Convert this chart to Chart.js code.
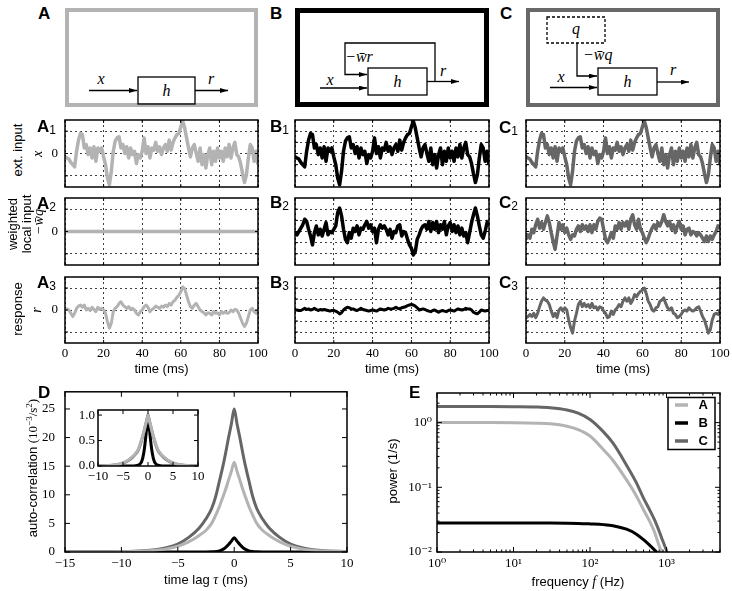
<!DOCTYPE html>
<html>
<head>
<meta charset="utf-8">
<script src="https://cdn.jsdelivr.net/npm/chart.js@4.4.0/dist/chart.umd.min.js"></script>
<style>
  html, body { margin: 0; background: #fff; }
  #fig { position: relative; width: 732px; height: 591px; overflow: hidden; font-family: "Liberation Sans", Arial, sans-serif; color: #000; }
  canvas { position: absolute; }
  .lbl { position: absolute; font-weight: bold; font-size: 17px; line-height: 1; }
  .sb { font-weight: normal; font-size: 12px; vertical-align: -2px; }
  .rl { position: absolute; transform: translate(-50%, -50%) rotate(-90deg); white-space: nowrap; font-size: 13px; line-height: 1; }
  .hl { position: absolute; transform: translate(-50%, -50%); white-space: nowrap; font-size: 13px; line-height: 1; }
  .m { font-family: "Liberation Serif", "DejaVu Serif", serif; font-style: italic; font-size: 14px; }
  .s { font-family: "Liberation Serif", "DejaVu Serif", serif; }
  svg text { font-family: "Liberation Serif", "DejaVu Serif", serif; font-style: italic; font-size: 16px; }
</style>
</head>
<body>
<div id="fig">
  <svg width="732" height="120" style="position:absolute;left:0;top:0">
    <defs>
      <marker id="ar" viewBox="0 0 10 6" refX="10" refY="3" markerWidth="8" markerHeight="5" orient="auto" markerUnits="userSpaceOnUse">
        <path d="M0,0 L10,3 L0,6 z" fill="#000"/>
      </marker>
    </defs>
    <g fill="none" stroke="#000" stroke-width="1.3">
      <!-- A -->
      <rect x="67" y="10" width="189" height="95" stroke="#b3b3b3" stroke-width="4"/>
      <rect x="138" y="77" width="57" height="27"/>
      <line x1="89" y1="90.5" x2="137" y2="90.5" marker-end="url(#ar)"/>
      <line x1="195" y1="90.5" x2="228" y2="90.5" marker-end="url(#ar)"/>
      <!-- B -->
      <rect x="297.5" y="10.5" width="189" height="94" stroke="#000" stroke-width="5"/>
      <rect x="368" y="68" width="59" height="27"/>
      <line x1="427" y1="81.5" x2="459" y2="81.5" marker-end="url(#ar)"/>
      <polyline points="435,81.5 435,43 345,43 345,74.5 367,74.5" marker-end="url(#ar)"/>
      <line x1="320" y1="88" x2="367" y2="88" marker-end="url(#ar)"/>
      <!-- C -->
      <rect x="528" y="10" width="190" height="95" stroke="#686868" stroke-width="4"/>
      <rect x="547" y="17" width="58" height="26" stroke-dasharray="3,2"/>
      <polyline points="577,43 577,76 597,76" marker-end="url(#ar)"/>
      <line x1="550" y1="87.5" x2="597" y2="87.5" marker-end="url(#ar)"/>
      <rect x="598" y="68" width="59" height="27"/>
      <line x1="657" y1="82" x2="689" y2="82" marker-end="url(#ar)"/>
    </g>
    <text x="166.5" y="96" text-anchor="middle">h</text>
    <text x="101" y="84" text-anchor="middle">x</text>
    <text x="211" y="84" text-anchor="middle">r</text>
    <text x="397.5" y="86.5" text-anchor="middle">h</text>
    <text x="330" y="85" text-anchor="middle">x</text>
    <text x="443" y="76" text-anchor="middle">r</text>
    <text x="359" y="62" text-anchor="middle">−w̄r</text>
    <text x="576" y="34" text-anchor="middle">q</text>
    <text x="583" y="60">−w̄q</text>
    <text x="561" y="82" text-anchor="middle">x</text>
    <text x="627.5" y="86.5" text-anchor="middle">h</text>
    <text x="673" y="75" text-anchor="middle">r</text>
  </svg>

  <canvas id="a1"></canvas><canvas id="b1"></canvas><canvas id="c1"></canvas>
  <canvas id="a2"></canvas><canvas id="b2"></canvas><canvas id="c2"></canvas>
  <canvas id="a3"></canvas><canvas id="b3"></canvas><canvas id="c3"></canvas>
  <canvas id="cd"></canvas><canvas id="cin"></canvas><canvas id="ce"></canvas>

  <div class="lbl" style="left:38px;top:5px">A</div>
  <div class="lbl" style="left:270px;top:5px">B</div>
  <div class="lbl" style="left:500px;top:5px">C</div>
  <div class="lbl" style="left:37px;top:118px">A<span class="sb">1</span></div>
  <div class="lbl" style="left:270px;top:118px">B<span class="sb">1</span></div>
  <div class="lbl" style="left:499px;top:119px">C<span class="sb">1</span></div>
  <div class="lbl" style="left:37px;top:195px">A<span class="sb">2</span></div>
  <div class="lbl" style="left:270px;top:194px">B<span class="sb">2</span></div>
  <div class="lbl" style="left:499px;top:194px">C<span class="sb">2</span></div>
  <div class="lbl" style="left:37px;top:274px">A<span class="sb">3</span></div>
  <div class="lbl" style="left:270px;top:274px">B<span class="sb">3</span></div>
  <div class="lbl" style="left:499px;top:274px">C<span class="sb">3</span></div>
  <div class="lbl" style="left:38px;top:384px">D</div>
  <div class="lbl" style="left:409px;top:384px">E</div>

  <div class="rl" style="left:17px;top:150px">ext. input</div>
  <div class="rl m" style="left:38px;top:154px">x</div>
  <div class="rl" style="left:12px;top:224px">weighted</div>
  <div class="rl" style="left:26px;top:224px">local input</div>
  <div class="rl m" style="left:39px;top:222px">−w̄q</div>
  <div class="rl" style="left:17px;top:309px">response</div>
  <div class="rl m" style="left:37px;top:310px">r</div>

  <div class="rl" style="left:32px;top:468px">auto-correlation <span class="s">(10<sup style="font-size:9px">−3</sup>/s<sup style="font-size:9px">2</sup>)</span></div>
  <div class="hl" style="left:206px;top:580px">time lag <span class="m">τ</span> (ms)</div>
  <div class="rl" style="left:392px;top:471px">power (1/s)</div>
  <div class="hl" style="left:578px;top:582px">frequency <span class="m">f</span> (Hz)</div>
</div>

<script>
// ---- data ----
const TIME = [0,1,2,3,4,5,6,7,8,9,10,11,12,13,14,15,16,17,18,19,20,21,22,23,24,25,26,27,28,29,30,31,32,33,34,35,36,37,38,39,40,41,42,43,44,45,46,47,48,49,50,51,52,53,54,55,56,57,58,59,60,61,62,63,64,65,66,67,68,69,70,71,72,73,74,75,76,77,78,79,80,81,82,83,84,85,86,87,88,89,90,91,92,93,94,95,96,97,98,99,100];

// external input x (same in A1, B1, C1)
const X_INPUT = [-0.3,-0.4,-0.5,-0.8,-1.0,-1.2,0.2,1.2,1.8,1.7,
  0.5,0.8,-0.1,0.5,-0.4,0.6,-0.7,0.5,0.2,0.5,
  -0.3,-1.0,-2.2,-2.8,-1.6,0.2,1.1,1.4,1.5,0.5,
  0.8,0,0.6,-0.4,0.5,-0.1,0.2,-0.9,-0.1,-0.4,
  0.2,1.4,0,0.6,-0.4,0.5,0.3,1.0,0.2,0.6,
  -0.1,0.5,0.8,0.2,1.2,0.3,1.0,1.4,1.7,1.8,
  2.4,2.9,2.3,1.4,0.5,-0.3,0.5,0.8,0,-0.7,
  0.5,-1.0,-0.1,-1.3,-0.1,0.5,-1.0,0.2,-0.7,0.5,
  -0.4,0.2,-0.7,0.5,-0.3,0.8,-0.4,0.5,1.0,-0.1,
  -0.3,-0.9,-1.8,-2.6,-1.9,-0.4,0.8,0.5,-0.7,0.2,-1.0];

// weighted local input
const A_LOCAL_T = [0, 100];
const A_LOCAL = [0, 0];
const B_LOCAL = [-0.1,-0.3,0,0.3,0.6,1.1,0.9,0.2,-0.4,-1.2,
  -0.1,0.5,-0.3,0.2,-0.4,0.2,0.8,-0.3,0,-0.1,
  0.2,0.5,1.7,2.1,1.4,0.2,-0.7,-1.0,-0.1,-0.6,
  0.3,0,0.5,-0.3,0.3,0.2,0.6,0.9,0.3,0.6,
  0,0.3,-1.0,0.2,0.6,0.3,0.5,0.2,-0.3,0.2,
  -0.6,0,-0.1,0.5,0.6,-0.4,0,-0.1,-0.7,-1.2,
  -1.5,-2.1,-1.8,-0.7,-0.3,0.2,0.5,0.6,0.2,0.9,
  0,0.8,0.2,0.9,-0.1,0.6,0.2,0.9,-0.3,0.5,
  0.8,0,0.6,-0.1,0.5,-0.3,0.3,-0.4,-0.1,-1.0,
  -0.1,0.8,1.5,2.1,1.4,0.5,-0.3,-0.6,0,0.8,0.5];
const C_LOCAL = [-0.7,-0.3,-0.6,0.2,-0.1,0.6,1.1,0.3,0.8,0.2,
  0.8,1.4,0.8,-0.1,-0.9,-1.6,-0.4,0.8,0.2,0.6,
  -0.1,0.3,-0.3,-0.7,-0.3,-0.4,0.2,0.5,0,0.6,
  0.2,0.5,0,0.6,-0.1,0.6,0.2,0.9,1.2,1.1,
  0.2,-0.7,-1.0,-0.6,-0.1,-0.6,0.5,0.2,0.8,0.2,
  0.8,0.5,0.9,0.2,1.1,1.5,0.6,0.2,1.1,0.2,
  -0.1,-0.6,-1.0,-0.6,-0.1,0.3,0.6,0.2,0.8,0.5,
  0.9,1.5,0.9,0.5,0.9,0.2,0.6,-0.1,0.5,0.9,
  0.2,0.5,-0.3,0.2,0.3,-0.3,0,-0.1,-0.4,-0.1,
  -0.3,-0.6,-0.9,-0.4,-0.9,-0.4,-0.7,-0.3,0,0.5,0.3];

// response r
const A_RESP = [0,0.1,0,-0.3,-0.6,-0.3,0.15,0.35,0.45,0.25,
  0.45,0,0.15,-0.05,0.25,0.05,-0.15,0.25,0.05,0.15,
  0,-0.3,-1.05,-1.65,-1.2,-0.15,0.15,0.3,0.6,0.75,
  0.45,0.3,0.15,0.3,0.05,0.15,0,-0.3,-0.45,-0.15,
  0,0.3,0.45,0.25,-0.15,0.05,0.15,0.35,0.25,0.15,
  0.35,0.25,0.45,0.3,0.6,0.45,0.75,0.9,1.15,1.35,
  1.65,2.1,1.95,1.35,0.75,0.3,0.15,0.45,0.6,0.3,
  0,-0.15,-0.25,-0.45,-0.25,-0.3,-0.45,-0.15,-0.3,-0.25,
  -0.45,-0.15,-0.3,-0.15,-0.3,-0.25,0,-0.15,0.05,0,
  -0.3,-0.75,-1.2,-1.5,-1.2,-0.6,0,0.15,-0.15,-0.3,-0.15];
const B_RESP = [0,0,-0.05,-0.05,0.05,0.15,0.05,0.1,0,0.05,
  0.15,0.05,-0.05,0.05,0,0.05,0,-0.05,-0.1,-0.05,
  -0.05,-0.1,-0.2,-0.35,-0.25,0,0.15,0.25,0.2,0.1,
  0.1,0,-0.05,0.05,0.15,0.05,0,-0.05,-0.1,-0.05,
  0,-0.05,-0.1,0,0.1,0.05,0,0.05,0.15,0.1,
  0.1,0.15,0.25,0.15,0.1,0.2,0.25,0.3,0.4,0.45,
  0.5,0.45,0.35,0.2,0,0.05,0.1,0.05,-0.05,-0.1,
  -0.15,-0.05,0,-0.1,-0.2,-0.1,-0.05,-0.1,-0.15,-0.05,
  0,-0.05,-0.1,0,0.1,0.05,0,0.05,0.15,0.1,
  0.1,0,-0.2,-0.3,-0.35,-0.2,0,-0.05,-0.1,-0.05,-0.05];
const C_RESP = [-0.7,-0.6,-0.4,-0.6,-0.3,-0.7,-0.3,0.3,0.8,1.1,
  0.9,0.8,0.5,-0.1,-0.6,-0.3,-0.7,0,0.2,-0.1,
  0.2,0,-0.9,-1.6,-2.1,-1.0,-0.3,0.5,0.8,0.3,
  0.6,0.3,0.5,0.2,0.6,0.2,0.3,0,0.3,0.2,
  -0.1,-0.3,-0.7,-0.6,-0.1,-0.4,0,0.2,0.5,0.3,
  0.8,1.1,0.8,1.1,0.6,0.9,1.4,1.2,1.5,1.7,
  1.8,2.0,1.5,0.8,0.5,0,-0.1,0.2,0.3,0.8,
  0.9,1.1,0.6,0.2,0,0.2,-0.3,-0.4,-0.7,-0.6,
  -0.4,-0.1,0,-0.1,0.2,0,-0.1,0,0.2,0.3,
  -0.1,-0.6,-0.9,-1.5,-2.1,-1.8,-0.9,-0.4,-0.3,-0.4,-0.1];

// D: auto-correlation vs time lag
const TAU = [-15,-12,-10,-8,-7,-6,-5,-4,-3.1,-2.5,-2,-1.6,-1.3,-1,-0.75,-0.5,-0.25,0,0.25,0.5,0.75,1,1.3,1.6,2,2.5,3.1,4,5,6,7,8,10];
const AC_A = [0,0.015,0.05,0.17,0.3,0.55,1.0,1.8,2.9,3.8,5.0,6.6,8.0,9.6,11.0,12.6,14.1,15.7,14.1,12.6,11.0,9.6,8.0,6.6,5.0,3.8,2.9,1.8,1.0,0.55,0.3,0.17,0.05];
const AC_B = [0,0,0,0,0,0,0,0,0,0.01,0.04,0.1,0.2,0.45,0.8,1.3,1.9,2.5,1.9,1.3,0.8,0.45,0.2,0.1,0.04,0.01,0,0,0,0,0,0,0];
const AC_C = [0,0.02,0.07,0.22,0.4,0.75,1.4,2.6,4.2,5.8,7.6,10,12.5,15,17.4,20,22.4,25,22.4,20,17.4,15,12.5,10,7.6,5.8,4.2,2.6,1.4,0.75,0.4,0.22,0.07];
// inset: normalised auto-correlation
const IN_A = [0,0.001,0.003,0.011,0.019,0.035,0.064,0.115,0.185,0.242,0.318,0.42,0.51,0.611,0.70,0.803,0.898,1,0.898,0.803,0.70,0.611,0.51,0.42,0.318,0.242,0.185,0.115,0.064,0.035,0.019,0.011,0.003];
const IN_B = [0,0,0,0,0,0,0,0,0,0.004,0.016,0.04,0.08,0.18,0.32,0.52,0.76,1,0.76,0.52,0.32,0.18,0.08,0.04,0.016,0.004,0,0,0,0,0,0,0];
const IN_C = [0,0.001,0.003,0.009,0.016,0.03,0.056,0.104,0.168,0.232,0.304,0.4,0.5,0.6,0.696,0.8,0.896,1,0.896,0.8,0.696,0.6,0.5,0.4,0.304,0.232,0.168,0.104,0.056,0.03,0.016,0.009,0.003];

// E: power spectra
const FREQ = [1,2,5,10,20,30,50,70,100,150,200,300,400,500,600,700,800,900,1000,1200];
const PSD_A = [1.0,1.0,1.0,0.995,0.98,0.96,0.88,0.78,0.62,0.38,0.26,0.13,0.075,0.045,0.03,0.02,0.0125,0.0088,0.0065,0.004];
const PSD_B = [0.028,0.028,0.028,0.028,0.028,0.028,0.0279,0.0277,0.0272,0.0265,0.0255,0.0225,0.019,0.0155,0.0128,0.0107,0.009,0.0077,0.0065,0.0045];
const PSD_C = [1.77,1.77,1.77,1.76,1.74,1.70,1.57,1.40,1.12,0.72,0.48,0.22,0.12,0.068,0.045,0.031,0.021,0.0145,0.0105,0.005];

// tick labels
const TS_XTICKS = [0,20,40,60,80,100];
const TS_YTICKS = [-2,-1,0,1,2];
const D_XTICKS = [-15,-10,-5,0,5,10];
const D_YTICKS = [0,5,10,15,20,25];
const IN_XTICKS = [-10,-5,0,5,10];
const IN_YTICKS = [0,0.5,1.0];
const E_XTICKS = [1,10,100,1000];
const E_YTICKS = [0.01,0.1,1];

// ---- styling ----
const COL_A = '#b3b3b3', COL_B = '#000000', COL_C = '#666666';
const SERIF = '"Liberation Serif", "DejaVu Serif", serif';
const SANS = '"Liberation Sans", Arial, sans-serif';
const GRID = 'rgba(0,0,0,0.75)';
const SUP = {'0':'\u2070','1':'\u00b9','2':'\u00b2','3':'\u00b3','4':'\u2074','-':'\u207b'};

const minus = v => String(v).replace('-', '\u2212');
const pow10 = v => '10' + String(Math.round(Math.log10(v))).split('').map(c => SUP[c]).join('');
const setTicks = list => s => { s.ticks = list.map(v => ({value: v})); };

function logMinor(lo, hi) {
  const out = [];
  for (let d = lo; d < hi; d *= 10)
    for (let k = 2; k < 10; k++) if (d * k <= hi) out.push(d * k);
  return out;
}

const frame = {
  id: 'frame',
  afterDraw(chart) {
    const {ctx, chartArea: a} = chart;
    ctx.save();
    ctx.strokeStyle = '#000';
    ctx.lineWidth = 1.5;
    ctx.strokeRect(a.left, a.top, a.right - a.left, a.bottom - a.top);
    ctx.restore();
  }
};

// matplotlib style ticks pointing inward on all four sides
const inTicks = {
  id: 'inTicks',
  afterDatasetsDraw(chart, args, opts) {
    const {ctx, chartArea: a, scales} = chart;
    const big = opts.len || 4, small = opts.minorLen || 2;
    ctx.save();
    ctx.strokeStyle = '#000';
    ctx.lineWidth = 1;
    ctx.beginPath();
    const mark = (s, v, len) => {
      const p = s.getPixelForValue(v);
      if (s.isHorizontal()) {
        if (p < a.left - 0.5 || p > a.right + 0.5) return;
        ctx.moveTo(p, a.bottom); ctx.lineTo(p, a.bottom - len);
        ctx.moveTo(p, a.top); ctx.lineTo(p, a.top + len);
      } else {
        if (p < a.top - 0.5 || p > a.bottom + 0.5) return;
        ctx.moveTo(a.left, p); ctx.lineTo(a.left + len, p);
        ctx.moveTo(a.right, p); ctx.lineTo(a.right - len, p);
      }
    };
    [scales.x, scales.y].forEach(s => {
      s.ticks.forEach(t => mark(s, t.value, big));
      (opts[s.axis + 'Minor'] || []).forEach(v => mark(s, v, small));
    });
    ctx.stroke();
    ctx.restore();
  }
};

const whiteArea = {
  id: 'whiteArea',
  beforeDraw(chart) {
    const {ctx, chartArea: a} = chart;
    ctx.save();
    ctx.fillStyle = '#fff';
    ctx.fillRect(a.left, a.top, a.right - a.left, a.bottom - a.top);
    ctx.restore();
  }
};

const eLegend = {
  id: 'eLegend',
  afterDraw(chart) {
    const {ctx, chartArea: a} = chart;
    const w = 47, h = 52, x = a.right - w - 5, y = a.top + 4.5;
    ctx.save();
    ctx.fillStyle = '#fff';
    ctx.fillRect(x, y, w, h);
    ctx.lineWidth = 1.5;
    ctx.strokeStyle = '#000';
    ctx.strokeRect(x, y, w, h);
    ctx.font = 'bold 13px ' + SANS;
    ctx.textAlign = 'right';
    ctx.textBaseline = 'middle';
    chart.data.datasets.forEach((ds, i) => {
      const ly = y + 7.5 + i * 18;
      ctx.strokeStyle = ds.borderColor;
      ctx.lineWidth = 3.5;
      ctx.beginPath();
      ctx.moveTo(x + 7, ly);
      ctx.lineTo(x + 20, ly);
      ctx.stroke();
      ctx.fillStyle = '#000';
      ctx.fillText(ds.label, x + w - 7, ly + 0.5);
    });
    ctx.restore();
  }
};

function place(id, l, t, w, h) {
  const cv = document.getElementById(id);
  cv.width = w; cv.height = h;
  cv.style.left = l + 'px'; cv.style.top = t + 'px';
  return cv;
}

function line(xs, ys, color, lw, label, smooth) {
  return {
    label: label,
    data: xs.map((x, i) => ({x: x, y: ys[i]})),
    borderColor: color,
    borderWidth: lw,
    pointRadius: 0,
    fill: false,
    tension: 0,
    cubicInterpolationMode: smooth ? 'monotone' : 'default',
    borderJoinStyle: 'round'
  };
}

function baseOptions(padT, padR) {
  return {
    responsive: false,
    animation: false,
    events: [],
    layout: {padding: {top: padT, right: padR, left: 0, bottom: 0}},
    plugins: {legend: {display: false}, tooltip: {enabled: false}}
  };
}

const PAD_T = 16, PAD_R = 14;

// ---- time-series panels ----
const COLS = [[65, 258], [295, 489], [526, 720]];
const ROWS = [[120, 187], [198, 265], [277, 343]];

function tsChart(id, col, row, xs, ys, color, lw) {
  const [x0, x1] = COLS[col], [y0, y1] = ROWS[row];
  const bottom = row === 2, left = col === 0;
  const axW = 25, axH = bottom ? 40 : 16;
  const cv = place(id, x0 - axW, y0 - PAD_T, x1 - x0 + axW + PAD_R, y1 - y0 + PAD_T + axH);
  const opts = baseOptions(PAD_T, PAD_R);
  opts.plugins.inTicks = {len: 3};
  opts.scales = {
    x: {
      type: 'linear', min: 0, max: 100,
      afterBuildTicks: setTicks(TS_XTICKS),
      afterFit: s => { s.height = axH; },
      grid: {color: GRID, lineWidth: 1, drawTicks: false},
      border: {display: false, dash: [2, 3]},
      ticks: {display: bottom, color: '#000', padding: 3, maxRotation: 0, font: {family: SERIF, size: 13}},
      title: {display: bottom, text: 'time (ms)', color: '#000', font: {family: SANS, size: 13}, padding: {top: 0, bottom: 6}}
    },
    y: {
      type: 'linear', min: -3, max: 3,
      afterBuildTicks: setTicks(TS_YTICKS),
      afterFit: s => { s.width = axW; },
      grid: {color: GRID, lineWidth: 1, drawTicks: false},
      border: {display: false, dash: [2, 3]},
      ticks: {display: left, color: '#000', padding: 7, font: {family: SERIF, size: 13}, callback: v => (v === 0 ? '0' : '')}
    }
  };
  return new Chart(cv, {
    type: 'line',
    data: {datasets: [line(xs, ys, color, lw, '', false)]},
    options: opts,
    plugins: [frame, inTicks]
  });
}

tsChart('a1', 0, 0, TIME, X_INPUT, COL_A, 3.5);
tsChart('b1', 1, 0, TIME, X_INPUT, COL_B, 3.5);
tsChart('c1', 2, 0, TIME, X_INPUT, COL_C, 3.5);
tsChart('a2', 0, 1, A_LOCAL_T, A_LOCAL, COL_A, 3.5);
tsChart('b2', 1, 1, TIME, B_LOCAL, COL_B, 3.5);
tsChart('c2', 2, 1, TIME, C_LOCAL, COL_C, 3.5);
tsChart('a3', 0, 2, TIME, A_RESP, COL_A, 3);
tsChart('b3', 1, 2, TIME, B_RESP, COL_B, 3);
tsChart('c3', 2, 2, TIME, C_RESP, COL_C, 3);

// ---- D: auto-correlation ----
(function () {
  const x0 = 65, x1 = 347, y0 = 390, y1 = 552, axW = 40, axH = 20;
  const cv = place('cd', x0 - axW, y0 - PAD_T, x1 - x0 + axW + PAD_R, y1 - y0 + PAD_T + axH);
  const opts = baseOptions(PAD_T, PAD_R);
  opts.plugins.inTicks = {len: 5};
  opts.scales = {
    x: {
      type: 'linear', min: -15, max: 10,
      afterBuildTicks: setTicks(D_XTICKS),
      afterFit: s => { s.height = axH; },
      grid: {display: false, drawTicks: false}, border: {display: false},
      ticks: {color: '#000', padding: 4, maxRotation: 0, font: {family: SERIF, size: 13}, callback: minus}
    },
    y: {
      type: 'linear', min: 0, max: 28,
      afterBuildTicks: setTicks(D_YTICKS),
      afterFit: s => { s.width = axW; },
      grid: {display: false, drawTicks: false}, border: {display: false},
      ticks: {color: '#000', padding: 10, font: {family: SERIF, size: 13}}
    }
  };
  new Chart(cv, {
    type: 'line',
    data: {datasets: [
      line(TAU, AC_A, COL_A, 3, 'A', true),
      line(TAU, AC_C, COL_C, 3, 'C', true),
      line(TAU, AC_B, COL_B, 3, 'B', true)
    ]},
    options: opts,
    plugins: [frame, inTicks]
  });
})();

// ---- D inset: normalised ----
(function () {
  const x0 = 98, x1 = 198, y0 = 410, y1 = 466, axW = 30, axH = 18;
  const cv = place('cin', x0 - axW, y0 - PAD_T, x1 - x0 + axW + PAD_R, y1 - y0 + PAD_T + axH);
  const opts = baseOptions(PAD_T, PAD_R);
  opts.plugins.inTicks = {len: 4};
  opts.scales = {
    x: {
      type: 'linear', min: -10, max: 10,
      afterBuildTicks: setTicks(IN_XTICKS),
      afterFit: s => { s.height = axH; },
      grid: {display: false, drawTicks: false}, border: {display: false},
      ticks: {color: '#000', padding: 3, maxRotation: 0, font: {family: SERIF, size: 13}, callback: minus}
    },
    y: {
      type: 'linear', min: 0, max: 1.1,
      afterBuildTicks: setTicks(IN_YTICKS),
      afterFit: s => { s.width = axW; },
      grid: {display: false, drawTicks: false}, border: {display: false},
      ticks: {color: '#000', padding: 3, font: {family: SERIF, size: 13}, callback: v => v.toFixed(1)}
    }
  };
  new Chart(cv, {
    type: 'line',
    data: {datasets: [
      line(TAU, IN_A, COL_A, 3, 'A', true),
      line(TAU, IN_C, COL_C, 3, 'C', true),
      line(TAU, IN_B, COL_B, 3, 'B', true)
    ]},
    options: opts,
    plugins: [whiteArea, frame, inTicks]
  });
})();

// ---- E: power spectra ----
(function () {
  const x0 = 437, x1 = 720, y0 = 393, y1 = 552, axW = 40, axH = 22;
  const cv = place('ce', x0 - axW, y0 - PAD_T, x1 - x0 + axW + PAD_R, y1 - y0 + PAD_T + axH);
  const opts = baseOptions(PAD_T, PAD_R);
  opts.plugins.inTicks = {len: 5, minorLen: 2.5, xMinor: logMinor(1, 5000), yMinor: logMinor(0.01, 2.87)};
  opts.scales = {
    x: {
      type: 'logarithmic', min: 1, max: 5000,
      afterBuildTicks: setTicks(E_XTICKS),
      afterFit: s => { s.height = axH; },
      grid: {display: false, drawTicks: false}, border: {display: false},
      ticks: {color: '#000', padding: 4, maxRotation: 0, font: {family: SERIF, size: 13}, callback: pow10}
    },
    y: {
      type: 'logarithmic', min: 0.01, max: 2.87,
      afterBuildTicks: setTicks(E_YTICKS),
      afterFit: s => { s.width = axW; },
      grid: {display: false, drawTicks: false}, border: {display: false},
      ticks: {color: '#000', padding: 5, font: {family: SERIF, size: 13}, callback: pow10}
    }
  };
  new Chart(cv, {
    type: 'line',
    data: {datasets: [
      line(FREQ, PSD_A, COL_A, 3, 'A', true),
      line(FREQ, PSD_B, COL_B, 3, 'B', true),
      line(FREQ, PSD_C, COL_C, 3, 'C', true)
    ]},
    options: opts,
    plugins: [frame, inTicks, eLegend]
  });
})();
</script>
</body>
</html>
